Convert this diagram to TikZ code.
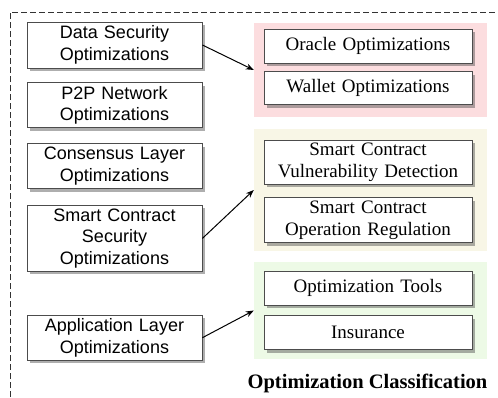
\documentclass[tikz,border=0pt]{standalone}
\usepackage{fontspec}
\setmainfont{Liberation Serif}
\newfontfamily\arialfont{Liberation Sans}
\usepackage{xcolor}
\usetikzlibrary{arrows.meta, positioning, shadows}
\definecolor{grpPink}{RGB}{252,221,223}
\definecolor{grpYellow}{RGB}{248,246,230}
\definecolor{grpGreen}{RGB}{237,250,230}

\begin{document}
\begin{tikzpicture}[
  x=1pt, y=-1pt,
  catbox/.style={rectangle, draw=black!70, line width=0.8pt, fill=white,
                 drop shadow={shadow xshift=3pt, shadow yshift=-3pt, opacity=0.45, fill=black!70},
                 minimum width=175pt, text width=170pt, inner sep=2pt,
                 align=center, font=\arialfont\fontsize{18}{21.5}\selectfont},
  subbox/.style={rectangle, draw=black!70, line width=0.8pt, fill=white,
                 drop shadow={shadow xshift=3pt, shadow yshift=-3pt, opacity=0.45, fill=black!70},
                 minimum width=208pt, text width=204pt, inner sep=2pt,
                 align=center, font=\fontsize{19}{22}\selectfont},
  group/.style={rectangle, draw=none, minimum width=233pt},
  arrow/.style={-{Stealth[length=8pt, width=6pt]}, line width=1pt, draw=black},
  node distance=14pt
]
  \useasboundingbox (0,0) rectangle (498,397);
  \draw[dash pattern=on 6pt off 3pt, line width=0.8pt, black!80] (10,397) -- (10,12) -- (498,12);
  % groups
  \node[group, fill=grpPink, minimum height=94pt] (pink) at (370.5,70) {};
  \node[group, fill=grpYellow, minimum height=122pt] (yellow) at (370.5,190) {};
  \node[group, fill=grpGreen, minimum height=97pt] (green) at (370.5,310.5) {};
  % left column
  \node[catbox, minimum height=46pt] (datasec) at (114.5,45) {Data Security\\Optimizations};
  \node[catbox, minimum height=45pt, below=14pt of datasec] (p2p) {P2P Network\\Optimizations};
  \node[catbox, minimum height=45pt, below=15pt of p2p] (consensus) {Consensus Layer\\Optimizations};
  \node[catbox, minimum height=66pt, below=16pt of consensus] (scsec) {Smart Contract\\Security\\Optimizations};
  \node[catbox, minimum height=45pt, below=43pt of scsec] (applayer) {Application Layer\\Optimizations};
  % right column
  \node[subbox, minimum height=34pt] (oracle) at (368,46) {Oracle Optimizations};
  \node[subbox, minimum height=33pt, below=8pt of oracle] (wallet) {Wallet Optimizations};
  \node[subbox, minimum height=44pt] (vuln) at (368,162) {Smart Contract\\Vulnerability Detection};
  \node[subbox, minimum height=45pt, below=13pt of vuln] (opreg) {Smart Contract\\Operation Regulation};
  \node[subbox, minimum height=34pt] (tools) at (368,288) {Optimization Tools};
  \node[subbox, minimum height=34pt, below=10pt of tools] (insurance) {Insurance};
  \node[font=\bfseries\fontsize{20.5}{24}\selectfont] (title) at (367.5,383) {Optimization Classification};
  % arrows
  \draw[arrow] (datasec.east) -- (pink.west);
  \draw[arrow] (scsec.east) -- (yellow.west);
  \draw[arrow] (applayer.east) -- (green.west);
\end{tikzpicture}
\end{document}
